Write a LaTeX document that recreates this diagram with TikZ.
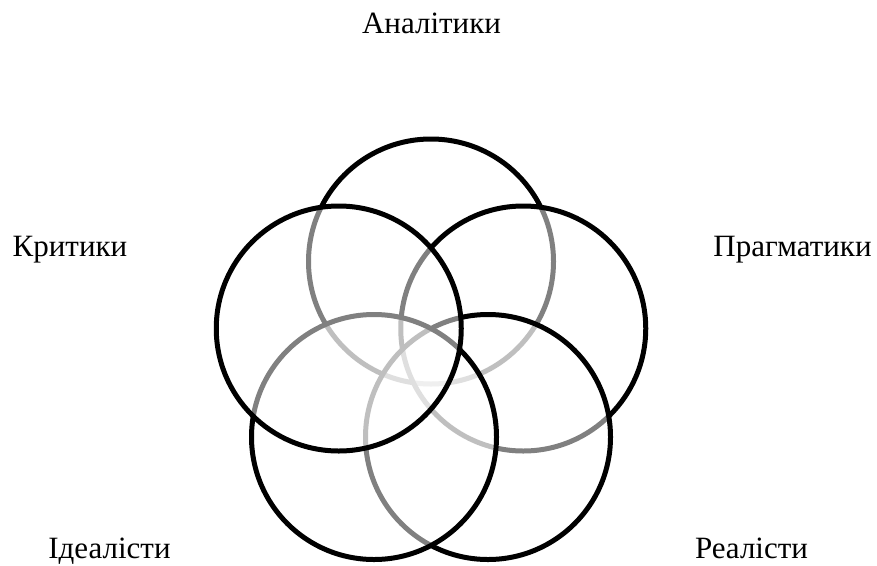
\documentclass[tikz,border=0pt]{standalone}
\usepackage{fontspec}
\setmainfont{Liberation Serif}
\begin{document}
\begin{tikzpicture}[x=1pt,y=-1pt,
  ring/.style={circle,draw=black,line width=5pt,minimum size=245pt,inner sep=0pt,fill=white,fill opacity=0.5,draw opacity=1},
  lbl/.style={anchor=base,inner sep=0pt,font=\fontsize{31}{36}\selectfont}]
\useasboundingbox (0,0) rectangle (877,565);
% circles, drawn bottom layer first
\node[ring] (ana) at (431,261.5) {};
\node[ring] (pra) at (523.25,328.5) {};
\node[ring] (rea) at (488,437) {};
\node[ring] (ide) at (374,437) {};
\node[ring] (kri) at (338.75,328.5) {};
% labels
\node[lbl] (tana) at (431.5,33) {Аналітики};
\node[lbl] (tkri) at (70,256) {Критики};
\node[lbl] (tpra) at (792.5,256) {Прагматики};
\node[lbl] (tide) at (109.5,558) {Ідеалісти};
\node[lbl] (trea) at (751.5,558) {Реалісти};
\end{tikzpicture}
\end{document}
